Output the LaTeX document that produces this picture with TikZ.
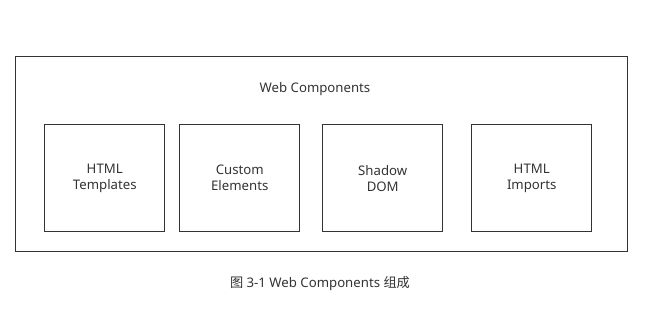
\documentclass[tikz,border=0pt]{standalone}
\usepackage{fontspec}
\setmainfont{Noto Sans}
\newfontfamily\cjk{Noto Sans CJK SC}
\begin{document}
\begin{tikzpicture}[x=1pt,y=-1pt,
  frame/.style={draw=black!80,line width=0.9pt},
  comp/.style={frame,minimum width=120pt,minimum height=107pt,anchor=north west,align=center,inner sep=0pt,font=\fontsize{13.2}{16}\selectfont,text=black!80},
  lbl/.style={font=\fontsize{13.2}{16}\selectfont,text=black!80}]
\useasboundingbox (0,0) rectangle (651,318);
\node[frame,minimum width=612pt,minimum height=195pt,anchor=north west,inner sep=0pt] (outer) at (15,56) {};
\node[lbl] (title) at (315,89.5) {Web Components};
\node[comp] (tpl) at (44.3,124.3) {HTML\\Templates};
\node[comp] (ce) at (179.3,124.3) {Custom\\Elements};
\node[comp] (sd) at (322.3,124.3) {Shadow\\DOM};
\node[comp] (imp) at (471.3,124.3) {HTML\\Imports};
\node[lbl] (cap) at (320,283.5) {{\cjk 图} 3-1 Web Components {\cjk 组成}};
\end{tikzpicture}
\end{document}
